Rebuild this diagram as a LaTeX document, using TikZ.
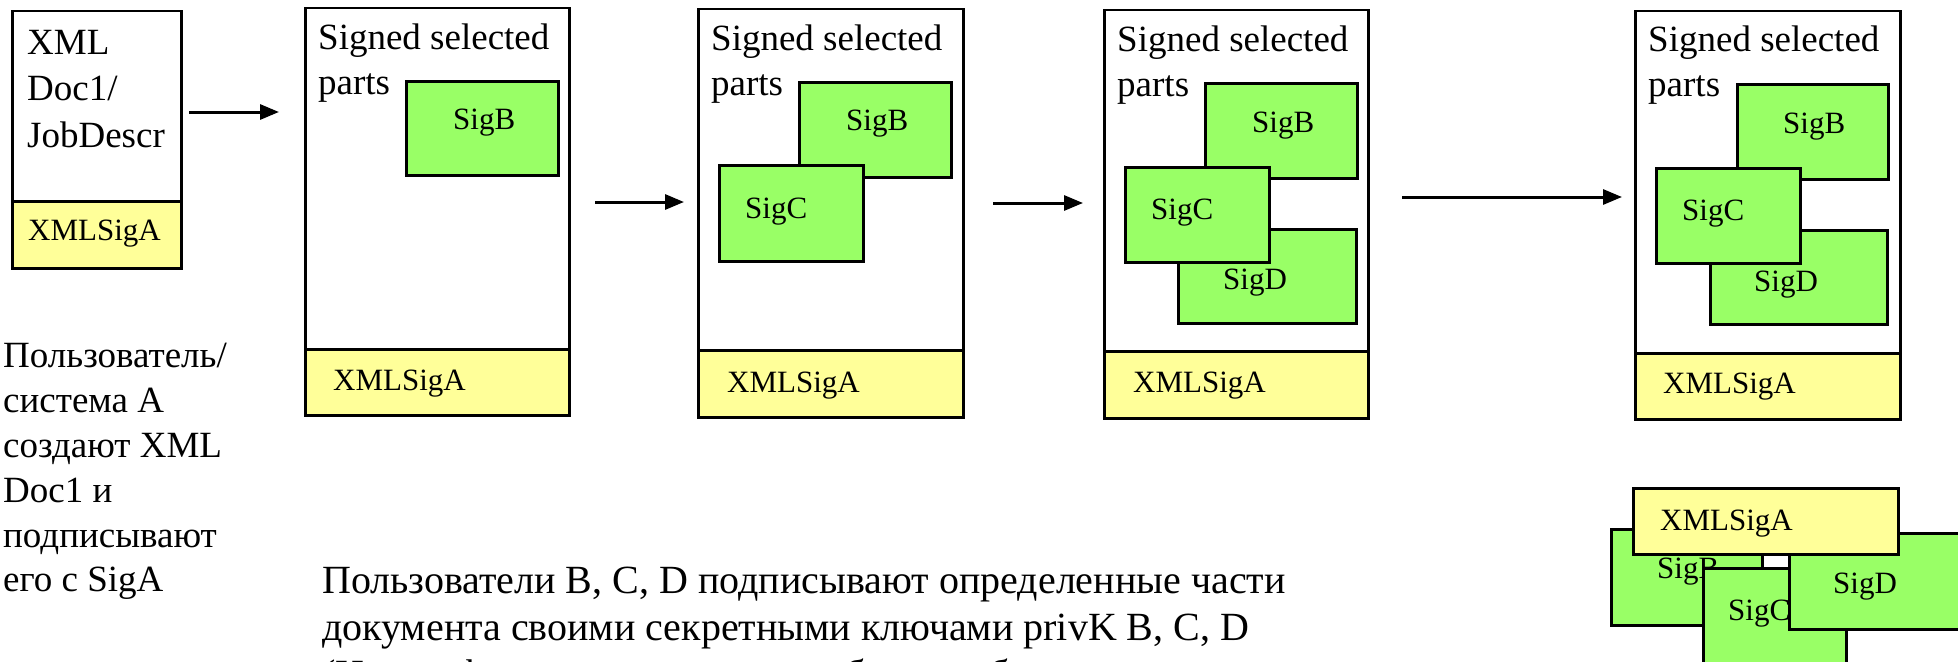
\documentclass[tikz,border=0pt]{standalone}
\usepackage{fontspec}
\setmainfont{Liberation Serif}
\usetikzlibrary{arrows.meta}

\definecolor{sigGreen}{RGB}{153,255,102}
\definecolor{sigYellow}{RGB}{255,255,153}

\tikzset{
  docbox/.style={draw, line width=2.5pt, fill=white, anchor=north west, inner sep=0pt},
  bandbox/.style={draw, line width=2.5pt, fill=sigYellow, anchor=north west, inner sep=0pt},
  sigbox/.style={draw, line width=2.5pt, fill=sigGreen, anchor=north west, inner sep=0pt},
  bigtxt/.style={font=\fontsize{37}{44}\selectfont, anchor=base west, inner sep=0pt},
  smalltxt/.style={font=\fontsize{31}{37}\selectfont, anchor=base west, inner sep=0pt},
  notetxt/.style={font=\fontsize{40}{47}\selectfont, anchor=base west, inner sep=0pt},
  flow/.style={line width=3pt, -{Triangle[length=19pt,width=15pt]}},
}

\begin{document}
\begin{tikzpicture}[x=1pt,y=-1pt]
\useasboundingbox (0,0) rectangle (1958,661);
\begin{scope}
\clip (0,0) rectangle (1958,661);

% ---------- document 1: XML Doc1 signed by A ----------
\node[docbox, minimum width=169pt, minimum height=257pt] (doc1) at (11,10) {};
\node[bandbox, minimum width=169pt, minimum height=67pt] (band1) at (11,200) {};
\node[bigtxt] (doc1a) at (27,55) {XML};
\node[bigtxt] (doc1b) at (27,100) {Doc1/};
\node[bigtxt] (doc1c) at (27,147) {JobDescr};
\node[smalltxt] (band1t) at ([shift={(17,40)}]band1.north west) {XMLSigA};

% ---------- document 2: SigB ----------
\node[docbox, minimum width=264pt, minimum height=407pt] (doc2) at (304,7) {};
\node[bandbox, minimum width=264pt, minimum height=66pt] (band2) at (304,348) {};
\node[bigtxt] (doc2a) at ([shift={(14,43)}]doc2.north west) {Signed selected};
\node[bigtxt] (doc2b) at ([shift={(14,87)}]doc2.north west) {parts};
\node[smalltxt] (band2t) at ([shift={(29,42)}]band2.north west) {XMLSigA};
\node[sigbox, minimum width=152pt, minimum height=94pt] (b2) at (405,80) {};
\node[smalltxt] (b2t) at ([shift={(48,49)}]b2.north west) {SigB};

% ---------- document 3: SigB, SigC ----------
\node[docbox, minimum width=265pt, minimum height=408pt] (doc3) at (697,8) {};
\node[bandbox, minimum width=265pt, minimum height=67pt] (band3) at (697,349) {};
\node[bigtxt] (doc3a) at ([shift={(14,43)}]doc3.north west) {Signed selected};
\node[bigtxt] (doc3b) at ([shift={(14,87)}]doc3.north west) {parts};
\node[smalltxt] (band3t) at ([shift={(30,43)}]band3.north west) {XMLSigA};
\node[sigbox, minimum width=152pt, minimum height=95pt] (b3) at (798,81) {};
\node[smalltxt] (b3t) at ([shift={(48,49)}]b3.north west) {SigB};
\node[sigbox, minimum width=144pt, minimum height=96pt] (c3) at (718,164) {};
\node[smalltxt] (c3t) at ([shift={(27,54)}]c3.north west) {SigC};

% ---------- document 4: SigB, SigC, SigD ----------
\node[docbox, minimum width=264pt, minimum height=408pt] (doc4) at (1103,9) {};
\node[bandbox, minimum width=264pt, minimum height=67pt] (band4) at (1103,350) {};
\node[bigtxt] (doc4a) at ([shift={(14,43)}]doc4.north west) {Signed selected};
\node[bigtxt] (doc4b) at ([shift={(14,87)}]doc4.north west) {parts};
\node[smalltxt] (band4t) at ([shift={(30,42)}]band4.north west) {XMLSigA};
\node[sigbox, minimum width=152pt, minimum height=95pt] (b4) at (1204,82) {};
\node[smalltxt] (b4t) at ([shift={(48,50)}]b4.north west) {SigB};
\node[sigbox, minimum width=178pt, minimum height=94pt] (d4) at (1177,228) {};
\node[smalltxt] (d4t) at ([shift={(46,61)}]d4.north west) {SigD};
\node[sigbox, minimum width=144pt, minimum height=95pt] (c4) at (1124,166) {};
\node[smalltxt] (c4t) at ([shift={(27,53)}]c4.north west) {SigC};

% ---------- document 5: final state ----------
\node[docbox, minimum width=265pt, minimum height=408pt] (doc5) at (1634,10) {};
\node[bandbox, minimum width=265pt, minimum height=66pt] (band5) at (1634,352) {};
\node[bigtxt] (doc5a) at ([shift={(14,42)}]doc5.north west) {Signed selected};
\node[bigtxt] (doc5b) at ([shift={(14,86)}]doc5.north west) {parts};
\node[smalltxt] (band5t) at ([shift={(29,41)}]band5.north west) {XMLSigA};
\node[sigbox, minimum width=151pt, minimum height=95pt] (b5) at (1736,83) {};
\node[smalltxt] (b5t) at ([shift={(47,50)}]b5.north west) {SigB};
\node[sigbox, minimum width=177pt, minimum height=94pt] (d5) at (1709,229) {};
\node[smalltxt] (d5t) at ([shift={(45,62)}]d5.north west) {SigD};
\node[sigbox, minimum width=144pt, minimum height=95pt] (c5) at (1655,167) {};
\node[smalltxt] (c5t) at ([shift={(27,53)}]c5.north west) {SigC};

% ---------- flow arrows ----------
\coordinate (a1s) at (189,112);  \coordinate (a1e) at (279,112);
\coordinate (a2s) at (595,202);  \coordinate (a2e) at (684,202);
\coordinate (a3s) at (993,203);  \coordinate (a3e) at (1083,203);
\coordinate (a4s) at (1402,197); \coordinate (a4e) at (1622,197);
\draw[flow] (a1s) -- (a1e);
\draw[flow] (a2s) -- (a2e);
\draw[flow] (a3s) -- (a3e);
\draw[flow] (a4s) -- (a4e);

% ---------- left caption ----------
\node[bigtxt] (capA1) at (3,367) {Пользователь/};
\node[bigtxt] (capA2) at (3,412) {система A};
\node[bigtxt] (capA3) at (3,457) {создают XML};
\node[bigtxt] (capA4) at (3,502) {Doc1 и};
\node[bigtxt] (capA5) at (3,547) {подписывают};
\node[bigtxt] (capA6) at (3,591) {его с SigA};

% ---------- bottom caption (third line runs past the lower edge) ----------
\node[notetxt] (capB1) at (322,593) {Пользователи B, C, D подписывают определенные части};
\node[notetxt] (capB2) at (322,640) {документа своими секретными ключами privK B, C, D};
\node[notetxt] (capB3) at (322,687) {(Новые фрагменты документа будут добавлены};

% ---------- detached signatures ----------
\node[sigbox, minimum width=151pt, minimum height=96pt] (bs) at (1610,528) {};
\node[smalltxt] (bst) at ([shift={(47,50)}]bs.north west) {SigB};
\node[sigbox, minimum width=143pt, minimum height=96pt] (cs) at (1702,567) {};
\node[smalltxt] (cst) at ([shift={(26,53)}]cs.north west) {SigC};
\node[sigbox, minimum width=178pt, minimum height=96pt] (ds) at (1788,532) {};
\node[smalltxt] (dst) at ([shift={(45,61)}]ds.north west) {SigD};
\node[bandbox, minimum width=265pt, minimum height=66pt] (as) at (1632,487) {};
\node[smalltxt] (ast) at ([shift={(28,43)}]as.north west) {XMLSigA};
\end{scope}
\end{tikzpicture}
\end{document}
